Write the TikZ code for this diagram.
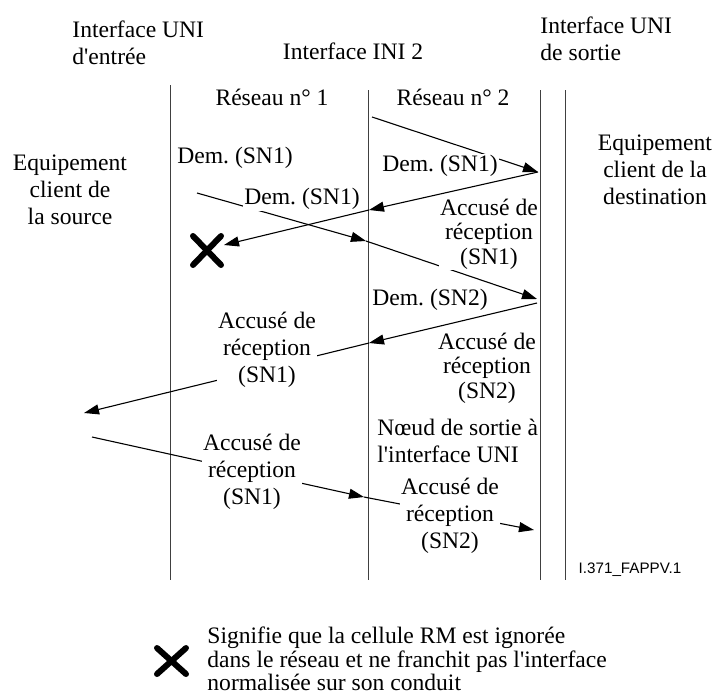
\documentclass[tikz,border=0pt]{standalone}
\usepackage{fontspec}
\setmainfont{Liberation Serif}
\newfontfamily\labelsans{Liberation Sans}
\usetikzlibrary{arrows.meta}
\newcommand{\apos}{\textquotesingle}
\begin{document}
\begin{tikzpicture}[x=0.5pt,y=-0.5pt,
  every node/.style={font=\fontsize{11.8}{13.4}\selectfont\frenchspacing, inner sep=0.5pt},
  tight/.style={font=\fontsize{11.8}{12.3}\selectfont\frenchspacing},
  lbl/.style={fill=white, align=center},
  head/.style={align=left, anchor=west},
  vline/.style={draw=black!75, line width=0.5pt},
  msg/.style={line width=0.55pt, -{Triangle[length=7.5pt,width=5pt]}},
  cross/.style={line width=3pt, line cap=round}
]
\useasboundingbox (0,0) rectangle (715,697);

% vertical interface lines
\coordinate (l1t) at (170,85);  \coordinate (l1b) at (170,580);
\coordinate (l2t) at (368,90);  \coordinate (l2b) at (368,580);
\coordinate (l3t) at (540,90);  \coordinate (l3b) at (540,580);
\coordinate (l4t) at (565,90);  \coordinate (l4b) at (565,580);
\draw[vline] (l1t) -- (l1b);
\draw[vline] (l2t) -- (l2b);
\draw[vline] (l3t) -- (l3b);
\draw[vline] (l4t) -- (l4b);

% message points
\coordinate (a1) at (372,117); \coordinate (a2) at (538,172);
\coordinate (b2) at (369,210); \coordinate (b3) at (224,245);
\coordinate (c1) at (197,193); \coordinate (c2) at (366,241); \coordinate (c3) at (537,299);
\coordinate (d1) at (537,303); \coordinate (d2) at (369,343); \coordinate (d3) at (84,413);
\coordinate (e1) at (92,437);  \coordinate (e2) at (364,497); \coordinate (e3) at (534,530);

\draw[msg] (a1) -- (a2);
\draw[msg] (a2) -- (b2);
\draw[msg] (b2) -- (b3);
\draw[msg] (c1) -- (c2);
\draw[msg] (c2) -- (c3);
\draw[msg] (d1) -- (d2);
\draw[msg] (d2) -- (d3);
\draw[msg] (e1) -- (e2);
\draw[msg] (e2) -- (e3);

% lost cell mark
\coordinate (x1) at (193,236); \coordinate (x2) at (221,265);
\coordinate (x3) at (221,236); \coordinate (x4) at (193,265);
\draw[cross] (x1) -- (x2);
\draw[cross] (x3) -- (x4);

% headings
\node[head] (hUNIin) at (71,43) {Interface UNI\\d\apos entrée};
\node (hINI) at (353,51) {Interface INI 2};
\node[head] (hUNIout) at (539,39) {Interface UNI\\de sortie};
\node (r1) at (272,97) {Réseau n° 1};
\node (r2) at (453,97) {Réseau n° 2};
\node[align=center] (src) at (70,190) {Equipement\\client de\\la source};
\node[align=center] (dst) at (655,170) {Equipement\\client de la\\destination};

% message labels
\node[lbl] (t1) at (235,158) {Dem. (SN1)};
\node[lbl] (t2) at (302,199) {Dem. (SN1)};
\node[lbl] (t3) at (440,166) {Dem. (SN1)};
\node[lbl,tight] (t4) at (489,234) {Accusé de\\réception\\(SN1)};
\node[lbl] (t5) at (430,300) {Dem. (SN2)};
\node[lbl,tight] (t6) at (487,368) {Accusé de\\réception\\(SN2)};
\node[lbl] (t7) at (267,350) {Accusé de\\réception\\(SN1)};
\node[head] (t8) at (376,441) {Nœud de sortie à\\l\apos interface UNI};
\node[lbl] (t9) at (252,472) {Accusé de\\réception\\(SN1)};
\node[lbl] (t10) at (450,516) {Accusé de\\réception\\(SN2)};

\node (fig) at (630,570) {\labelsans\fontsize{7.6}{9}\selectfont I.371\_FAPPV.1};

% legend
\coordinate (y1) at (157,648); \coordinate (y2) at (186,674);
\coordinate (y3) at (186,648); \coordinate (y4) at (157,674);
\draw[cross] (y1) -- (y2);
\draw[cross] (y3) -- (y4);
\node[head, font=\fontsize{11.8}{11.8}\selectfont\frenchspacing] (leg) at (206,659) {Signifie que la cellule RM est ignorée\\dans le réseau et ne franchit pas l\apos interface\\normalisée sur son conduit};
\end{tikzpicture}
\end{document}
